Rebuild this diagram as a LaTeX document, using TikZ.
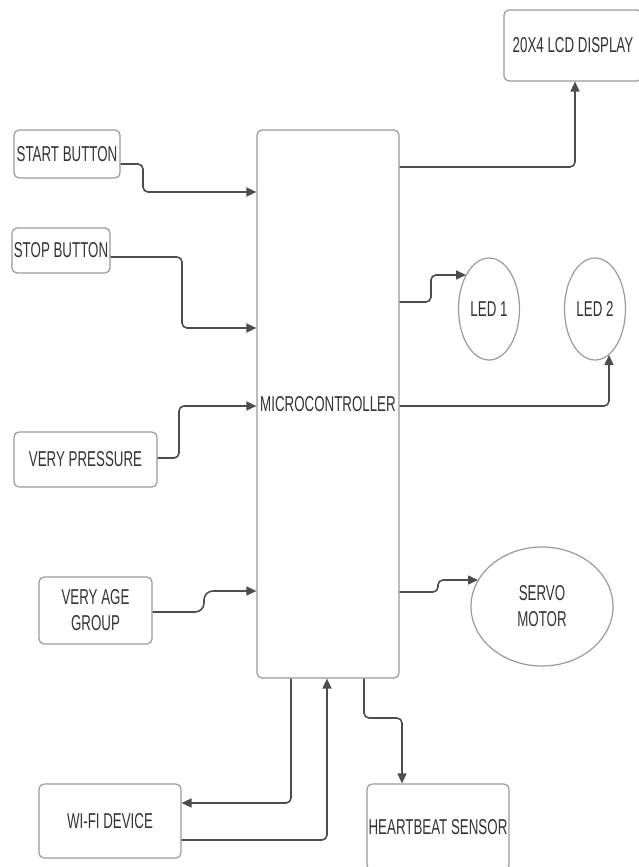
\documentclass[tikz,border=0pt]{standalone}
\usepackage{fontspec}
\setmainfont{Liberation Sans}[FakeStretch=0.62]
\usetikzlibrary{arrows.meta,shapes.geometric}
\definecolor{boxline}{HTML}{9A9A9A}
\definecolor{connline}{HTML}{4D4D4D}
\definecolor{txt}{HTML}{333333}
\tikzset{
  blk/.style={draw=boxline, line width=1.2pt, rounded corners=5pt, fill=white,
    inner sep=0pt, align=center, text=txt,
    font=\fontsize{21.5}{26}\selectfont},
  oval/.style={ellipse, draw=boxline, line width=1.2pt, fill=white,
    inner sep=0pt, align=center, text=txt,
    font=\fontsize{21.5}{26}\selectfont},
  conn/.style={draw=connline, line width=1.6pt, rounded corners=5pt,
    -{Triangle[length=10pt,width=9pt]}},
}
\begin{document}
\begin{tikzpicture}[x=1pt,y=-1pt]
\useasboundingbox (0,0) rectangle (639,867);
% nodes
\node[blk, minimum width=138pt, minimum height=71pt] (lcd) at (573,45.5) {20X4 LCD DISPLAY};
\node[blk, minimum width=106pt, minimum height=48pt] (start) at (67,154) {START BUTTON};
\node[blk, minimum width=98pt, minimum height=45pt] (stop) at (61,250.5) {STOP BUTTON};
\node[blk, minimum width=143pt, minimum height=55pt] (press) at (85.5,459.5) {VERY PRESSURE};
\node[blk, minimum width=113pt, minimum height=67pt] (age) at (95.5,610.5) {VERY AGE\\GROUP};
\node[blk, minimum width=142pt, minimum height=74pt] (wifi) at (110,821) {WI-FI DEVICE};
\node[blk, minimum width=142pt, minimum height=86pt] (heart) at (438,827) {HEARTBEAT SENSOR};
\node[blk, minimum width=142pt, minimum height=548pt] (micro) at (328,404) {MICROCONTROLLER};
\node[oval, minimum width=61pt, minimum height=102pt] (led1) at (489,309) {LED 1};
\node[oval, minimum width=61pt, minimum height=102pt] (led2) at (595,309) {LED 2};
\node[oval, minimum width=142pt, minimum height=119pt] (servo) at (542,606.5) {SERVO\\MOTOR};
% connectors
\draw[conn] (start.east |- 0,164) -- (143,164) -- (143,192) -- (micro.west |- 0,192);
\draw[conn] (stop.east |- 0,257) -- (182,257) -- (182,328) -- (micro.west |- 0,328);
\draw[conn] (press.east |- 0,458) -- (179,458) -- (179,406) -- (micro.west |- 0,406);
\draw[conn, rounded corners=9pt] (age.east |- 0,612) -- (204,612) -- (204,591) -- (micro.west |- 0,591);
\draw[conn] (micro.east |- 0,167) -- (575,167) -- (lcd.south -| 575,0);
\draw[conn] (micro.east |- 0,302) -- (431,302) -- (431,275) -- (466,275);
\draw[conn] (micro.east |- 0,406) -- (609,406) -- (609,355);
\draw[conn] (micro.east |- 0,592) -- (438,592) -- (438,580) -- (478,580);
\draw[conn] (micro.south -| 291,0) -- (291,803) -- (wifi.east |- 0,803);
\draw[conn] (wifi.east |- 0,840) -- (327,840) -- (micro.south -| 327,0);
\draw[conn] (micro.south -| 364,0) -- (364,718) -- (402,718) -- (heart.north -| 402,0);
\end{tikzpicture}
\end{document}
